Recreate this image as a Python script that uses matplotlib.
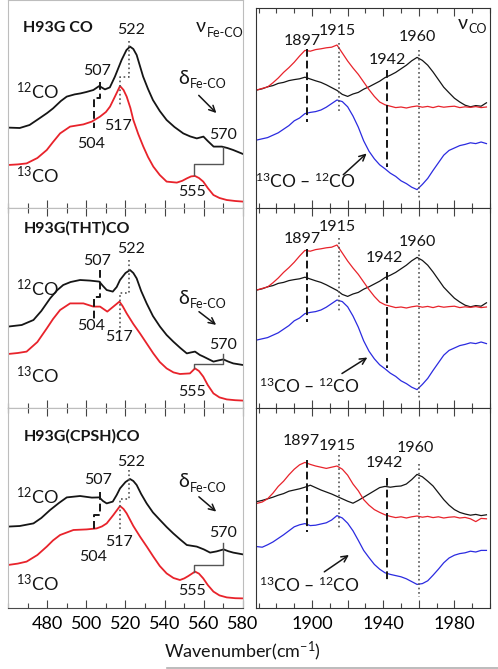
import numpy as np
import matplotlib.pyplot as plt
from matplotlib.ticker import MultipleLocator, FixedLocator, FixedFormatter

plt.rcParams['font.family'] = ['Lato', 'DejaVu Sans']
plt.rcParams['mathtext.fontset'] = 'custom'
plt.rcParams['mathtext.rm'] = 'Lato'
plt.rcParams['mathtext.default'] = 'regular'

# ---------------- data : Fe-CO region (left column) ----------------
fe_peaks = [504, 507, 517, 522, 555, 570]

feA_12_x = [460, 466, 471, 476, 480, 483, 487, 490, 494, 497, 500, 503.6, 506.6, 509.5, 512,
            514.6, 518, 520.5, 522.3, 524, 525.7, 529, 531.5, 534, 537.5, 541, 545, 549.5,
            553, 556.4, 559.8, 562, 565, 569.2, 572, 575, 578, 580]
feA_12_y = [40.2, 40.0, 41.5, 44.8, 47.5, 49.8, 53.5, 55.7, 56.8, 57.3, 58.0, 59.0, 61.0, 59.3, 60.3,
            65.7, 74.0, 79.0, 80.7, 79.5, 76.5, 65.7, 59.5, 54.0, 48.5, 44.0, 40.5, 37.3,
            35.8, 34.8, 35.7, 33.5, 30.7, 30.7, 30.0, 29.0, 27.8, 27.0]
feA_13_x = [460, 465, 469.5, 475, 479.8, 483, 486.6, 491.7, 498.5, 502.8, 507, 510, 512.1, 514.5,
            517.2, 519, 520.6, 522.5, 524, 526.5, 529.1, 531.5, 534.2, 537.5, 541, 546.2, 549,
            551.3, 553.5, 555.5, 557.5, 559.7, 562, 564.9, 568, 571.7, 576, 580]
feA_13_y = [21.5, 21.8, 22.3, 25.0, 29.0, 33.0, 37.3, 40.7, 41.8, 43.2, 45.7, 48.0, 50.7, 55.5,
            61.0, 59.0, 55.7, 50.0, 44.0, 37.0, 30.7, 25.5, 20.7, 16.5, 13.2, 12.7, 13.6,
            14.8, 15.8, 16.0, 15.0, 13.2, 10.0, 6.5, 5.0, 4.0, 3.5, 3.2]

feB_12_x = [460, 467, 473, 477, 481.5, 485, 488.2, 492, 496.8, 501.9, 506.6, 508.5, 510.4, 513.5,
            515.5, 517.2, 520, 522.3, 524, 525.7, 528, 530.8, 534, 537.6, 541, 544.4, 548,
            551.3, 553.5, 555.5, 558, 559.8, 564.9, 567.5, 570, 572.5, 575, 580]
feB_12_y = [40.7, 41.5, 44.0, 48.5, 54.8, 58.8, 61.5, 63.0, 64.0, 63.7, 63.2, 61.0, 59.0, 58.2,
            60.5, 64.0, 67.5, 69.0, 67.5, 64.8, 58.5, 52.3, 46.0, 40.7, 36.5, 33.2, 30.0,
            27.3, 27.8, 28.2, 26.5, 25.7, 23.2, 23.8, 24.3, 23.2, 22.3, 21.5]
feB_13_x = [460, 465, 469.5, 475, 479.8, 483, 486.6, 491.7, 498.5, 503.6, 507, 510.7, 513.8, 516.9,
            518.5, 520.6, 524, 527.4, 531, 534.2, 537.5, 541, 544.5, 547.8, 552.9, 555.5, 557.5,
            559.7, 562, 564.9, 568, 571.7, 576, 580]
feB_13_y = [27.0, 27.5, 28.2, 33.0, 39.8, 44.5, 49.0, 52.3, 52.3, 50.7, 50.7, 48.2, 50.7, 53.2,
            51.0, 47.3, 42.0, 37.3, 32.0, 27.3, 23.0, 19.8, 17.8, 17.0, 17.3, 19.8, 18.5,
            15.7, 11.5, 7.3, 5.3, 4.3, 3.9, 3.7]

feC_12_x = [460, 466, 473, 477, 481.5, 486, 490, 496.8, 502.8, 506.6, 508.5, 510.4, 513.5, 515.5,
            517.2, 520, 522.3, 524, 525.7, 528, 530.8, 534, 537.6, 541, 544.4, 548, 551.3,
            556.4, 560, 563.2, 566.5, 570.1, 572.5, 575, 580]
feC_12_y = [40.7, 41.0, 42.3, 45.0, 49.0, 52.5, 55.3, 56.0, 55.2, 55.3, 53.5, 52.3, 53.2, 56.5,
            59.8, 63.0, 64.5, 63.5, 61.5, 57.0, 52.3, 47.8, 44.0, 40.5, 37.3, 34.2, 31.5,
            30.7, 29.3, 27.7, 28.3, 29.3, 28.4, 27.7, 26.8]
feC_13_x = [460, 465, 469.5, 475, 479.8, 483, 486.6, 493.4, 500.2, 505.3, 508, 510.4, 513.8, 517.2,
            519, 520.6, 524, 527.4, 531, 534.2, 537.5, 541, 544.5, 547.8, 550, 552.1, 555.5,
            557.5, 559.7, 562, 564.9, 568, 571.7, 576, 580]
feC_13_y = [21.5, 22.2, 23.2, 26.5, 30.7, 33.8, 36.5, 39.0, 39.3, 39.8, 40.8, 42.3, 46.5, 51.0,
            49.5, 47.3, 41.0, 35.7, 30.5, 25.7, 21.0, 17.3, 15.0, 14.0, 14.8, 16.0, 18.2,
            17.2, 14.8, 11.5, 8.2, 6.3, 5.3, 4.9, 4.8]

# ---------------- data : CO stretch region (right column) ----------------
co_peaks = [1897, 1915, 1942, 1960]
co_wn = np.arange(1869, 2000, 3)

coA_13 = [59.0, 59.8, 60.5, 62.6, 65.0, 67.8, 70.2, 72.9, 76.0, 78.8,
          78.4, 79.2, 79.6, 80.1, 80.4, 81.5, 77.5, 73.5, 70.0, 66.8,
          63.0, 59.2, 55.8, 53.0, 51.6, 50.9, 50.2, 50.5, 50.0, 50.6,
          51.0, 50.4, 50.8, 50.2, 50.9, 50.4, 50.7, 50.9, 50.2, 50.6,
          50.3, 50.7, 50.2, 50.5]
coA_12 = [59.0, 59.6, 60.6, 61.2, 62.3, 62.8, 63.7, 64.2, 64.6, 65.4,
          64.5, 63.6, 62.8, 61.6, 60.2, 58.8, 56.8, 55.8, 57.0, 57.8,
          59.4, 60.6, 62.0, 63.4, 65.2, 66.4, 67.8, 69.6, 71.4, 73.6,
          75.3, 73.8, 71.4, 68.0, 64.2, 60.4, 57.6, 54.9, 53.0, 51.4,
          50.6, 51.2, 50.9, 52.6]
coA_diff = [34.0, 34.6, 35.2, 36.4, 37.6, 39.4, 41.2, 43.6, 45.0, 47.2,
            47.8, 48.2, 49.0, 50.4, 52.2, 54.0, 53.2, 50.6, 46.0, 40.4,
            33.6, 28.4, 24.6, 21.6, 19.6, 17.4, 15.8, 13.6, 12.2, 10.4,
            9.2, 11.8, 14.8, 18.8, 22.6, 26.4, 28.8, 30.0, 31.2, 31.8,
            32.6, 32.2, 33.0, 32.2]
# the THT panel shows the very same traces as the top one
coB_13 = coA_13
coB_12 = coA_12
coB_diff = coA_diff

coC_13 = [52.3, 53.0, 54.6, 57.4, 60.8, 63.4, 66.6, 69.4, 71.6, 72.8,
          71.8, 71.0, 70.4, 69.8, 70.4, 71.0, 69.4, 66.4, 62.0, 58.6,
          54.2, 51.4, 49.2, 47.8, 46.6, 45.8, 45.2, 45.6, 45.0, 45.6,
          46.0, 45.4, 45.8, 45.2, 45.6, 45.0, 45.4, 45.6, 45.0, 45.3,
          44.6, 43.2, 44.8, 44.6]
coC_12 = [53.2, 53.8, 54.6, 55.4, 56.4, 57.2, 58.4, 59.0, 59.6, 60.4,
          61.4, 60.2, 59.0, 58.0, 57.0, 55.8, 54.6, 53.4, 52.4, 53.8,
          55.4, 57.0, 58.6, 60.2, 60.8, 60.4, 60.8, 61.0, 62.0, 64.2,
          66.8, 65.6, 63.4, 61.0, 57.6, 54.2, 51.4, 49.2, 47.8, 47.0,
          46.4, 46.8, 46.2, 46.6]
coC_diff = [30.7, 30.4, 31.6, 33.0, 34.8, 36.6, 38.6, 40.6, 41.6, 42.2,
            41.2, 41.4, 42.0, 42.6, 44.0, 46.2, 45.0, 42.4, 38.6, 33.8,
            28.8, 25.2, 21.8, 19.4, 17.6, 16.8, 16.2, 15.6, 14.6, 13.2,
            11.8, 12.2, 13.6, 16.4, 19.4, 22.6, 25.0, 26.4, 27.2, 27.6,
            28.4, 28.0, 28.8, 28.8]

titles = ['H93G CO', 'H93G(THT)CO', 'H93G(CPSH)CO']

RED = '#e8232b'
BLUE = '#2b2be0'
BLK = '#151515'
GRY = '#555555'

W, H = 498, 669
fig = plt.figure(figsize=(W / 100, H / 100), dpi=100)


def axes_px(x0, y0, x1, y1):
    return fig.add_axes([x0 / W, 1 - y1 / H, (x1 - x0) / W, (y1 - y0) / H])


def style_axes(ax, left_col, bottom_row, top_ticks=True):
    ax.set_yticks([])
    if left_col:
        ax.set_xlim(460, 580)
        ax.xaxis.set_major_locator(FixedLocator([480, 500, 520, 540, 560, 580]))
        ax.xaxis.set_minor_locator(MultipleLocator(10))
        for s in ['left', 'right', 'top']:
            ax.spines[s].set_color('#bdbdbd')
        ax.spines['bottom'].set_color('#4a4a4a')
    else:
        ax.set_xlim(1868.5, 2000)
        ax.xaxis.set_major_locator(FixedLocator([1900, 1920, 1940, 1960, 1980]))
        ax.xaxis.set_major_formatter(FixedFormatter(['1900', '', '1940', '', '1980']))
        ax.xaxis.set_minor_locator(MultipleLocator(10))
        for s in ax.spines.values():
            s.set_color('#333333')
    ax.tick_params(axis='x', which='both', direction='in', top=top_ticks, bottom=True,
                   color='#444444', width=0.8, labelbottom=bottom_row, labelsize=13, pad=6)
    ax.tick_params(axis='x', which='major', length=5.5)
    ax.tick_params(axis='x', which='minor', length=3.5)


def greek(ax, x, y, sym, sub):
    t = ax.text(x, y, sym, fontsize=14, ha='left', va='center', color=BLK)
    ax.annotate(sub, xy=(1, 0.15), xycoords=t, xytext=(0.3, 0), textcoords='offset points',
                fontsize=9, ha='left', va='center', color=BLK)


def fe_panel(ax, x12, y12, x13, y13, title, ty, iso_y, m522, m507, m555, lab, dy, arr):
    ax.plot(x12, y12, color=BLK, lw=1.3)
    ax.plot(x13, y13, color=RED, lw=1.3)
    p504, p507, p517, p522, p555, p570 = fe_peaks
    ax.plot([p522, p522, p517, p517], [m522[0], m522[1], m522[1], m522[2]], ls=':', color=GRY, lw=1.2)
    ax.plot([p507, p507, p504, p504], [m507[0], m507[1], m507[1], m507[2]], ls=(0, (4, 2)), color=BLK, lw=1.4)
    ax.plot([p555, p555, p570, p570], [m555[0], m555[1], m555[1], m555[2]], color=GRY, lw=1.0)
    for p, (lx, ly) in zip(fe_peaks, lab):
        ax.text(lx, ly, str(p), fontsize=11.5, ha='center', va='center', color=BLK)
    ax.text(467.8, ty, title, fontsize=11.5, fontweight='bold', ha='left', va='center', color=BLK)
    ax.text(464, iso_y[0], '$^{12}$CO', fontsize=13, ha='left', va='center', color=BLK)
    ax.text(464, iso_y[1], '$^{13}$CO', fontsize=13, ha='left', va='center', color=BLK)
    greek(ax, 547, dy, 'δ', 'Fe-CO')
    ax.annotate('', xy=arr[1], xytext=arr[0],
                arrowprops=dict(arrowstyle='->', color=BLK, lw=1.1, mutation_scale=11))


def co_panel(ax, y13, y12, yd, lines, lab, dlab, arr):
    ax.plot(co_wn, y12, color=BLK, lw=0.9)
    ax.plot(co_wn, y13, color=RED, lw=0.9)
    ax.plot(co_wn, yd, color=BLUE, lw=0.9)
    styles = [(0, (4, 2)), ':', (0, (4, 2)), ':']
    for p, (y0, y1), ls, (lx, ly) in zip(co_peaks, lines, styles, lab):
        if ls == ':':
            ax.plot([p, p], [y0, y1], ls=ls, color=GRY, lw=1.2)
        else:
            ax.plot([p, p], [y0, y1], ls=ls, color=BLK, lw=1.4)
        ax.text(lx, ly, str(p), fontsize=11.5, ha='center', va='center', color=BLK)
    ax.text(dlab[0], dlab[1], '$^{13}$CO – $^{12}$CO', fontsize=12.5, ha='center', va='center', color=BLK)
    ax.annotate('', xy=arr[1], xytext=arr[0],
                arrowprops=dict(arrowstyle='->', color=BLK, lw=1.1, mutation_scale=11))


# ---------------- left column ----------------
axA = axes_px(8, 0, 243, 208)
axA.set_ylim(0, 104)
style_axes(axA, True, False, top_ticks=False)
fe_panel(axA, feA_12_x, feA_12_y, feA_13_x, feA_13_y, titles[0], 89.8, (58.2, 16.5),
         (83.7, 65.7, 50.7), (63.2, 54.8, 39.8), (16.5, 22.0, 30.7),
         [(502.7, 32), (505.3, 68.7), (516.3, 41), (523, 89), (553.8, 8.2), (569.6, 36.5)],
         64.8, ((556.4, 57.3), (567.4, 46.5)))
greek(axA, 556, 90.6, 'ν', 'Fe-CO')

axB = axes_px(8, 208, 243, 408)
axB.set_ylim(0, 100)
style_axes(axB, True, False)
fe_panel(axB, feB_12_x, feB_12_y, feB_13_x, feB_13_y, titles[1], 89.8, (59.8, 16.5),
         (74.0, 57.3, 37.3), (69.0, 55.3, 43.2), (19.8, 22.0, 27.0),
         [(502.5, 41), (505.4, 73.7), (516.5, 35.7), (523, 79.3), (553.8, 8.2), (569.6, 31.5)],
         54.8, ((556.4, 49.0), (567.4, 40.7)))

axC = axes_px(8, 408, 243, 608)
axC.set_ylim(0, 100)
style_axes(axC, True, True)
fe_panel(axC, feC_12_x, feC_12_y, feC_13_x, feC_13_y, titles[2], 85.7, (55.7, 12.3),
         (69.0, 54.3, 39.0), (58.2, 46.5, 38.2), (18.2, 21.5, 32.3),
         [(503.5, 25.7), (506, 64), (516.5, 33.2), (523, 73.2), (553.8, 8.7), (569.6, 37.3)],
         63.2, ((556.4, 56.5), (567.4, 47.3)))

# ---------------- right column ----------------
axD = axes_px(256, 8, 490, 208)
axD.set_ylim(0, 100)
style_axes(axD, False, False)
co_panel(axD, coA_13, coA_12, coA_diff,
         [(79.3, 43.2), (82.7, 47.3), (69.0, 20.7), (79.0, 4.8)],
         [(1894.6, 83.7), (1914.3, 88.7), (1942.2, 74.0), (1959.3, 85.3)],
         (1896.2, 13.2), ((1916.4, 15.7), (1931.8, 28.2)))
greek(axD, 1981.9, 92.3, 'ν', 'CO')

axE = axes_px(256, 208, 490, 408)
axE.set_ylim(0, 100)
style_axes(axE, False, False)
co_panel(axE, coB_13, coB_12, coB_diff,
         [(79.3, 43.2), (84.8, 47.7), (68.2, 19.8), (79.0, 4.0)],
         [(1894.6, 84.3), (1914.3, 90.7), (1940.8, 74.8), (1959.3, 83.2)],
         (1898.7, 10.7), ((1915.5, 16.5), (1932.4, 26.0)))

axF = axes_px(256, 408, 490, 608)
axF.set_ylim(0, 100)
style_axes(axF, False, True)
co_panel(axF, coC_13, coC_12, coC_diff,
         [(74.0, 38.2), (76.5, 39.8), (64.8, 14.0), (72.0, 5.7)],
         [(1894.0, 83.7), (1914.3, 81.2), (1940.8, 72.3), (1958.0, 79.8)],
         (1898.7, 11.5), ((1905.6, 17.3), (1922.0, 27.3)))

fig.text(242.5 / W, 1 - 651.7 / H, 'Wavenumber(cm$^{-1}$)', ha='center', va='center',
         fontsize=13, color=BLK)
fig.add_artist(plt.Line2D([167 / W, 1], [1 - 668 / H, 1 - 668 / H], color='#b0b0b0', lw=1.2,
                          transform=fig.transFigure))

fig.savefig('out.png', dpi=100)
